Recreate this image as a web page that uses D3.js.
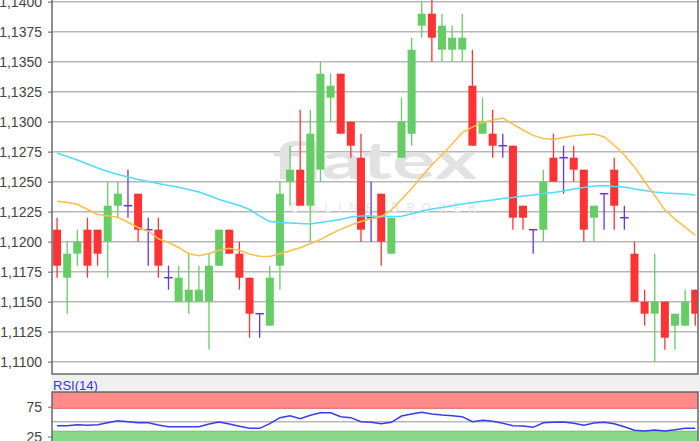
<!DOCTYPE html>
<html><head><meta charset="utf-8">
<script src="https://cdn.jsdelivr.net/npm/d3@7"></script>
<style>
html,body{margin:0;padding:0;background:#fff;}
svg{display:block;font-family:"Liberation Sans",Arial,sans-serif;}
</style></head><body>
<svg id="c" width="700" height="441"></svg>
<script>
// ---- data ----
const openP  = [1.121,1.117,1.119,1.121,1.121,1.120,1.123,1.123,1.124,1.121,1.121,1.117,1.115,1.115,1.115,1.115,1.118,1.121,1.119,1.117,1.114,1.113,1.118,1.125,1.126,1.123,1.126,1.132,1.134,1.130,1.127,1.122,1.124,1.119,1.127,1.129,1.138,1.139,1.136,1.136,1.136,1.133,1.129,1.129,1.128,1.128,1.123,1.121,1.121,1.127,1.127,1.127,1.126,1.122,1.124,1.126,1.122,1.119,1.115,1.114,1.115,1.113,1.113,1.116];
const highP  = [1.122,1.120,1.121,1.122,1.121,1.125,1.125,1.126,1.124,1.122,1.122,1.118,1.118,1.119,1.118,1.119,1.121,1.121,1.120,1.117,1.114,1.118,1.125,1.128,1.131,1.131,1.135,1.134,1.134,1.130,1.129,1.125,1.124,1.122,1.132,1.137,1.140,1.141,1.139,1.138,1.139,1.136,1.132,1.131,1.129,1.128,1.123,1.121,1.126,1.129,1.128,1.128,1.126,1.123,1.124,1.127,1.123,1.120,1.116,1.119,1.115,1.114,1.116,1.116];
const lowP   = [1.117,1.114,1.118,1.117,1.118,1.117,1.122,1.122,1.120,1.118,1.117,1.116,1.115,1.114,1.115,1.111,1.118,1.119,1.116,1.112,1.112,1.113,1.116,1.123,1.123,1.120,1.125,1.130,1.129,1.127,1.120,1.120,1.118,1.119,1.127,1.128,1.137,1.135,1.135,1.135,1.135,1.128,1.129,1.127,1.127,1.121,1.121,1.119,1.120,1.125,1.124,1.125,1.120,1.120,1.121,1.121,1.121,1.115,1.113,1.110,1.111,1.111,1.113,1.113];
const closeP = [1.118,1.119,1.120,1.118,1.119,1.123,1.124,1.123,1.121,1.121,1.118,1.117,1.117,1.116,1.116,1.118,1.121,1.119,1.117,1.114,1.114,1.117,1.124,1.126,1.123,1.129,1.134,1.133,1.129,1.128,1.121,1.122,1.120,1.122,1.130,1.136,1.139,1.137,1.138,1.137,1.137,1.128,1.130,1.128,1.128,1.122,1.122,1.121,1.125,1.125,1.127,1.126,1.121,1.123,1.124,1.123,1.122,1.115,1.114,1.115,1.112,1.114,1.115,1.114];
const maLong = [1.12739,1.12710,1.12681,1.12648,1.12614,1.12585,1.12560,1.12539,1.12518,1.12502,1.12485,1.12468,1.12453,1.12435,1.12414,1.12385,1.12352,1.12327,1.12302,1.12268,1.12214,1.12168,1.12160,1.12156,1.12152,1.12148,1.12160,1.12173,1.12185,1.12206,1.12214,1.12214,1.12210,1.12210,1.12212,1.12233,1.12256,1.12273,1.12285,1.12300,1.12314,1.12327,1.12338,1.12348,1.12360,1.12368,1.12381,1.12389,1.12402,1.12410,1.12423,1.12439,1.12452,1.12464,1.12468,1.12460,1.12456,1.12439,1.12427,1.12414,1.12406,1.12402,1.12398,1.12389];
const maShort = [1.12337,1.12327,1.12312,1.12268,1.12227,1.12216,1.12203,1.12162,1.12118,1.12089,1.12024,1.11993,1.11952,1.11900,1.11884,1.11902,1.11929,1.11945,1.11927,1.11898,1.11879,1.11877,1.11899,1.11924,1.11949,1.11983,1.12018,1.12064,1.12103,1.12139,1.12168,1.12193,1.12210,1.12264,1.12352,1.12443,1.12543,1.12641,1.12725,1.12814,1.12910,1.12955,1.12993,1.13013,1.13031,1.12980,1.12931,1.12886,1.12860,1.12851,1.12869,1.12883,1.12891,1.12897,1.12875,1.12804,1.12722,1.12623,1.12502,1.12385,1.12264,1.12188,1.12121,1.12054];
const rsi = [43.2,43.2,45.0,43.9,45.0,48.3,51.7,50,48.3,48.3,44.5,41.5,41.5,41.5,41.5,46.1,49.5,46.1,42.2,38.8,38.8,46.7,56.8,60.1,55.0,60.8,65.1,65.1,58.5,56.8,50,49,46.7,49,59.6,62.9,65.9,62.9,61.3,60.1,58.5,50,52.3,50.6,47.3,43.2,42.7,40.5,48.3,49,49.5,47.3,43.9,47.8,49,46.7,41.5,35.5,34.3,36.0,34.3,36.5,38.8,38.8];
const priceTicks = [1.1100,1.1125,1.1150,1.1175,1.1200,1.1225,1.1250,1.1275,1.1300,1.1325,1.1350,1.1375,1.1400];
const rsiTicks = [75,25];
const rsiGrid = [50];
const rsiOverbought = [100,72.5];
const rsiOversold = [34,0];
const rsiLabel = "RSI(14)";
const wmMain = "flatex", wmSub = "ONLINE BROKER";

// ---- layout ----
const L = 52, R = 698, mainBottom = 374, rsiTop = 392;
const n = closeP.length;
const svg = d3.select("#c");
const x = d3.scaleBand().domain(d3.range(n)).range([L, L + n * 10.13]);
const cx = i => x(i) + x.bandwidth() / 2;
const y = d3.scaleLinear().domain([1.11, 1.14]).range([361.7, 1.7]);
const yR = d3.scaleLinear().domain([0, 100]).range([451.4, rsiTop]);

const defs = svg.append("defs");
defs.append("clipPath").attr("id","mclip").append("rect").attr("x",L).attr("y",-20).attr("width",R-L).attr("height",mainBottom+20);
defs.append("clipPath").attr("id","rclip").append("rect").attr("x",L).attr("y",rsiTop).attr("width",R-L).attr("height",60);

// background gap between panels
svg.append("rect").attr("x",L).attr("y",mainBottom).attr("width",700-L).attr("height",rsiTop-mainBottom).attr("fill","#f0f0f0");

// grid lines main
svg.append("g").selectAll("line").data(priceTicks).join("line")
  .attr("x1",L).attr("x2",R).attr("y1",d=>y(d)).attr("y2",d=>y(d))
  .attr("stroke","#b8b8b8").attr("stroke-width",1.5);

// axis
const ax = svg.append("g").attr("transform",`translate(${L},0)`)
  .call(d3.axisLeft(y).tickValues(priceTicks).tickSize(4).tickPadding(6)
    .tickFormat(d => d3.format(".4f")(d).replace(".", ",")));
ax.select(".domain").remove();
ax.selectAll(".tick line").attr("stroke","#999").attr("stroke-width",1.5);
ax.selectAll(".tick text").attr("fill","#444").style("font-size","14px").style("font-family","'Liberation Sans',Arial,sans-serif");

// watermark
const wm = svg.append("g").attr("clip-path","url(#mclip)");
wm.append("text").attr("x",272).attr("y",179).attr("textLength",205).attr("lengthAdjust","spacingAndGlyphs")
  .style("font-family","Lato, 'Open Sans', sans-serif").style("font-weight","bold").style("font-size","52px")
  .attr("fill","#e2e2e2").text(wmMain);
wm.append("text").attr("x",290).attr("y",211.5).attr("textLength",186).attr("lengthAdjust","spacing")
  .style("font-family","'Open Sans', sans-serif").style("font-size","13px")
  .attr("fill","#e6e6e6").text(wmSub);

// candles
const main = svg.append("g").attr("clip-path","url(#mclip)");
const colorOf = i => closeP[i] > openP[i] ? "#66cc66" : (closeP[i] < openP[i] ? "#ff3333" : "#6a35dd");
const idx = d3.range(n);
main.append("g").selectAll("line").data(idx).join("line")
  .attr("x1",cx).attr("x2",cx).attr("y1",i=>y(highP[i])).attr("y2",i=>y(lowP[i]))
  .attr("stroke",colorOf).attr("stroke-width",1.3);
const bw = 8;
main.append("g").selectAll("rect").data(idx.filter(i=>closeP[i]!==openP[i])).join("rect")
  .attr("x",i=>cx(i)-bw/2).attr("width",bw)
  .attr("y",i=>y(Math.max(openP[i],closeP[i])))
  .attr("height",i=>Math.abs(y(openP[i])-y(closeP[i])))
  .attr("fill",colorOf);
main.append("g").selectAll("line").data(idx.filter(i=>closeP[i]===openP[i])).join("line")
  .attr("x1",i=>cx(i)-4.3).attr("x2",i=>cx(i)+4.3).attr("y1",i=>y(closeP[i])).attr("y2",i=>y(closeP[i]))
  .attr("stroke","#6a35dd").attr("stroke-width",1.5);

// moving averages
const lineGen = arr => d3.line().x((d,i)=>cx(i)).y(d=>y(d)).curve(d3.curveLinear)(arr);
main.append("path").attr("d",lineGen(maLong)).attr("fill","none").attr("stroke","#4fdcff").attr("stroke-width",1.5);
main.append("path").attr("d",lineGen(maShort)).attr("fill","none").attr("stroke","#ffbe4a").attr("stroke-width",1.5);

// main frame
svg.append("path").attr("d",`M${L},-5V${mainBottom}H${R}V-5`).attr("fill","none").attr("stroke","#6a6a6a").attr("stroke-width",1.5);

// ---- RSI panel ----
svg.append("text").attr("x",L+1).attr("y",rsiTop-2).attr("fill","#3333ff").style("font-size","13px").text(rsiLabel);
const rp = svg.append("g").attr("clip-path","url(#rclip)");
rp.append("rect").attr("x",L).attr("y",rsiTop).attr("width",R-L).attr("height",60).attr("fill","#fff");
rp.append("rect").attr("x",L).attr("width",R-L).attr("y",yR(rsiOverbought[0])).attr("height",yR(rsiOverbought[1])-yR(rsiOverbought[0]))
  .attr("fill","#ff8a8a").attr("stroke","#e26a6a").attr("stroke-width",1);
rp.append("rect").attr("x",L).attr("width",R-L).attr("y",yR(rsiOversold[0])).attr("height",yR(rsiOversold[1])-yR(rsiOversold[0]))
  .attr("fill","#8ad88a").attr("stroke","#6cc06c").attr("stroke-width",1);
rp.selectAll("line.g").data(rsiGrid).join("line").attr("class","g")
  .attr("x1",L).attr("x2",R).attr("y1",d=>yR(d)).attr("y2",d=>yR(d)).attr("stroke","#b8b8b8").attr("stroke-width",1.5);
rp.append("path").attr("d",d3.line().x((d,i)=>cx(i)).y(d=>yR(d))(rsi)).attr("fill","none").attr("stroke","#3a3aee").attr("stroke-width",1.5);
const rax = svg.append("g").attr("transform",`translate(${L},0)`)
  .call(d3.axisLeft(yR).tickValues(rsiTicks).tickSize(4).tickPadding(6));
rax.select(".domain").remove();
rax.selectAll(".tick line").attr("stroke","#999").attr("stroke-width",1.5);
rax.selectAll(".tick text").attr("fill","#444").style("font-size","14px").style("font-family","'Liberation Sans',Arial,sans-serif");
svg.append("path").attr("d",`M${L},446V${rsiTop}H${R}V446`).attr("fill","none").attr("stroke","#6a6a6a").attr("stroke-width",1.5);
</script>
</body></html>
